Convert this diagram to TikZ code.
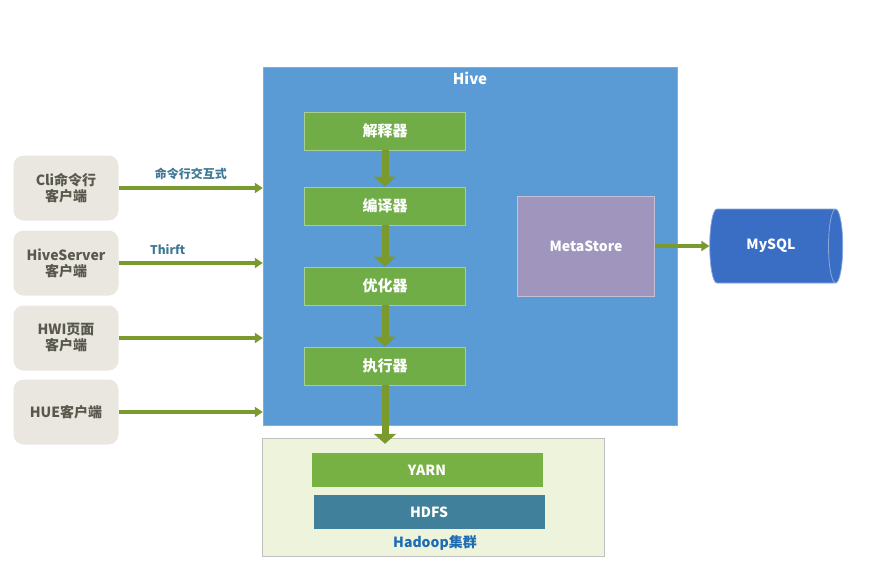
\documentclass[tikz,border=0pt]{standalone}
\usepackage{fontspec}
\setmainfont{Noto Sans CJK SC}
\usetikzlibrary{arrows.meta,shapes.geometric}
\definecolor{hiveblue}{RGB}{91,155,213}
\definecolor{boxgreen}{RGB}{112,173,71}
\definecolor{arrowgreen}{RGB}{122,154,46}
\definecolor{clientgray}{RGB}{233,231,224}
\definecolor{clienttext}{RGB}{88,88,76}
\definecolor{metapurple}{RGB}{160,150,189}
\definecolor{sqlblue}{RGB}{58,110,196}
\definecolor{hdfsteal}{RGB}{64,128,154}
\definecolor{hadoopbg}{RGB}{238,243,220}
\definecolor{labelteal}{RGB}{62,120,150}
\definecolor{hadoopblue}{RGB}{30,108,180}

\begin{document}
\begin{tikzpicture}[x=1pt,y=-1pt,
    client/.style={fill=clientgray,rounded corners=10pt,minimum width=105pt,minimum height=65pt,
        text=clienttext,font=\bfseries\fontsize{14}{16}\selectfont,align=center},
    stage/.style={fill=boxgreen,draw=boxgreen!60!white,line width=0.8pt,minimum width=161pt,minimum height=38pt,
        text=white,font=\bfseries\fontsize{15}{17}\selectfont},
    bigarrow/.style={draw=arrowgreen,line width=7pt,-{Triangle[width=22pt,length=10pt]}},
    thinarrow/.style={draw=arrowgreen,line width=3.5pt,-{Triangle[width=10pt,length=8pt]}},
    arrowlabel/.style={text=labelteal,font=\bfseries\fontsize{12}{14}\selectfont}]
    \useasboundingbox (0,0) rectangle (869,582);

    % Hive
    \node[fill=hiveblue,draw=hiveblue!80!white,minimum width=414pt,minimum height=358pt] (hive) at (470,246) {};
    \node[text=white,font=\bfseries\fontsize{15}{17}\selectfont] (hivetitle) at (470,78) {Hive};

    \node[stage] (parser) at (385,131) {解释器};
    \node[stage] (compiler) at (385,206) {编译器};
    \node[stage] (optimizer) at (385,286) {优化器};
    \node[stage] (executor) at (385,366) {执行器};

    \node[fill=metapurple,draw=metapurple!60!white,line width=0.8pt,minimum width=137pt,minimum height=100pt,
        text=white,font=\bfseries\fontsize{14}{16}\selectfont] (metastore) at (586,246) {MetaStore};

    \node[cylinder,shape aspect=0.7,fill=sqlblue,draw=sqlblue!60!white,line width=0.8pt,
        minimum width=74pt,minimum height=133pt,text=white,font=\bfseries\fontsize{14}{16}\selectfont] (mysql) at (771,246) {MySQL};

    % Hadoop
    \node[fill=hadoopbg,draw=gray!50,minimum width=342pt,minimum height=118pt] (hadoop) at (433,497) {};
    \node[fill=boxgreen!95!yellow,minimum width=231pt,minimum height=34pt,text=white,
        font=\bfseries\fontsize{14}{16}\selectfont] (yarn) at (427,470) {YARN};
    \node[fill=hdfsteal,minimum width=231pt,minimum height=34pt,text=white,
        font=\bfseries\fontsize{14}{16}\selectfont] (hdfs) at (429,512) {HDFS};
    \node[text=hadoopblue,font=\bfseries\fontsize{14}{16}\selectfont] (hadooptitle) at (435,543) {Hadoop集群};

    % clients
    \node[client] (cli) at (66,188) {Cli命令行\\客户端};
    \node[client] (hiveserver) at (66,263) {HiveServer\\客户端};
    \node[client] (hwi) at (66,338) {HWI页面\\客户端};
    \node[client] (hue) at (66,412) {HUE客户端};

    \draw[thinarrow] (cli.east) -- (cli.east -| hive.west) node[arrowlabel,midway,above=3pt] {命令行交互式};
    \draw[thinarrow] (hiveserver.east) -- (hiveserver.east -| hive.west) node[arrowlabel,pos=0.34,above=3pt] {Thirft};
    \draw[thinarrow] (hwi.east) -- (hwi.east -| hive.west);
    \draw[thinarrow] (hue.east) -- (hue.east -| hive.west);

    \draw[bigarrow] (parser) -- (compiler);
    \draw[bigarrow] (compiler) -- (optimizer);
    \draw[bigarrow] (optimizer) -- (executor);
    \draw[bigarrow] (executor) -- ([yshift=-6pt]hadoop.north -| executor);
    \draw[thinarrow] (metastore.east) -- (metastore.east -| mysql.west);
\end{tikzpicture}
\end{document}
